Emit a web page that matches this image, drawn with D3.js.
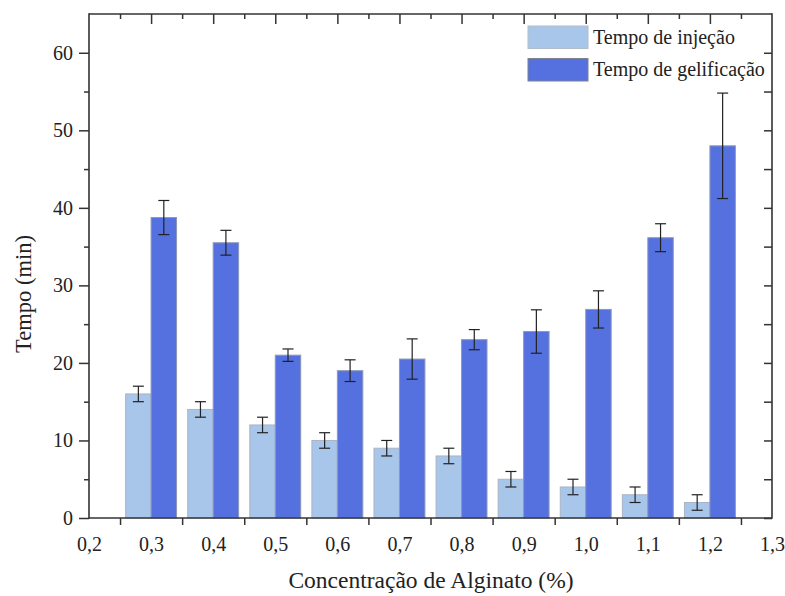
<!DOCTYPE html>
<html><head><meta charset="utf-8">
<script src="https://cdn.jsdelivr.net/npm/d3@7"></script>
<style>body{margin:0;background:#fff}svg{display:block}text{font-family:"Liberation Serif","Times New Roman",serif !important;fill:#222}</style>
</head><body><svg id="c" width="785" height="596"></svg>
<script>
const concentrations = [0.3,0.4,0.5,0.6,0.7,0.8,0.9,1.0,1.1,1.2];
const injecao = [16,14,12,10,9,8,5,4,3,2];
const injecaoErr = [1,1,1,1,1,1,1,1,1,1];
const gelificacao = [38.75,35.5,21.0,19.0,20.5,23.0,24.05,26.9,36.15,48.0];
const gelificacaoErr = [2.2,1.6,0.8,1.4,2.6,1.3,2.8,2.4,1.8,6.8];
const xTicks = [0.2,0.3,0.4,0.5,0.6,0.7,0.8,0.9,1.0,1.1,1.2,1.3];
const yTicks = [0,10,20,30,40,50,60];
const seriesNames = ["Tempo de injeção","Tempo de gelificação"];

const svg = d3.select("#c");
const L=89, R=772, T=14, B=518;
const x = d3.scaleLinear().domain([0.2,1.3]).range([L,R]);
const y = d3.scaleLinear().domain([0,65]).range([B,T]);
const bw = 0.041;
const colLight="#a8c6ea", colDark="#5571e0";
const FONT = "'Liberation Serif','Times New Roman',serif";

// bars
const g = svg.append("g");
g.selectAll("rect.l").data(concentrations).join("rect")
 .attr("x",d=>x(d-bw)).attr("width",d=>x(d)-x(d-bw))
 .attr("y",(d,i)=>y(injecao[i])).attr("height",(d,i)=>y(0)-y(injecao[i]))
 .attr("fill",colLight).attr("stroke","#a9b4c4").attr("stroke-width",1);
g.selectAll("rect.d").data(concentrations).join("rect")
 .attr("x",d=>x(d)).attr("width",d=>x(d+bw)-x(d))
 .attr("y",(d,i)=>y(gelificacao[i])).attr("height",(d,i)=>y(0)-y(gelificacao[i]))
 .attr("fill",colDark).attr("stroke","#8e98b8").attr("stroke-width",1);

function errBars(vals, errs, off){
  concentrations.forEach((c,i)=>{
    const cx = x(c+off);
    const y1=y(vals[i]+errs[i]), y2=y(vals[i]-errs[i]);
    g.append("line").attr("x1",cx).attr("x2",cx).attr("y1",y1).attr("y2",y2).attr("stroke","#222").attr("stroke-width",1.2);
    [y1,y2].forEach(yy=>g.append("line").attr("x1",cx-5.5).attr("x2",cx+5.5).attr("y1",yy).attr("y2",yy).attr("stroke","#222").attr("stroke-width",1.2));
  });
}
errBars(injecao, injecaoErr, -bw/2);
errBars(gelificacao, gelificacaoErr, bw/2);

// frame
const ax = svg.append("g").attr("stroke","#333").attr("stroke-width",1.6);
ax.append("line").attr("x1",L).attr("x2",R).attr("y1",B).attr("y2",B);
ax.append("line").attr("x1",L).attr("x2",R).attr("y1",T).attr("y2",T);
ax.append("line").attr("x1",L).attr("x2",L).attr("y1",T-0.8).attr("y2",B+0.8);
ax.append("line").attr("x1",R).attr("x2",R).attr("y1",T-0.8).attr("y2",B+0.8);

// left axis
const yAxis = d3.axisLeft(y).tickValues(yTicks).tickSize(10).tickPadding(6).tickFormat(d3.format("d"));
const ya = svg.append("g").attr("transform",`translate(${L},0)`).call(yAxis).attr("font-family",FONT);
ya.select(".domain").remove();
ya.selectAll("line").attr("stroke","#333").attr("stroke-width",1.5);
ya.selectAll("text").style("font-size","20px").attr("fill","#222");
const yMinor = d3.range(5,65,10);
svg.append("g").attr("transform",`translate(${L},0)`).call(d3.axisLeft(y).tickValues(yMinor).tickSize(5).tickFormat(""))
 .call(s=>s.select(".domain").remove()).selectAll("line").attr("stroke","#333").attr("stroke-width",1.5);
// right axis inward ticks
svg.append("g").attr("transform",`translate(${R},0)`).call(d3.axisLeft(y).tickValues(d3.range(0,65,5)).tickSize(8).tickFormat(""))
 .call(s=>s.select(".domain").remove()).selectAll("line").attr("stroke","#333").attr("stroke-width",1.5);

// bottom axis labels + midpoint ticks
const xb = svg.append("g").attr("transform",`translate(0,${B})`)
 .call(d3.axisBottom(x).tickValues(xTicks).tickSize(0).tickPadding(19).tickFormat(d=>d3.format(".1f")(d).replace(".",",")))
 .attr("font-family",FONT);
xb.select(".domain").remove();
xb.selectAll("text").style("font-size","20px").attr("fill","#222");
const mids = xTicks.slice(0,-1).map((d,i)=>(d+xTicks[i+1])/2);
svg.append("g").attr("transform",`translate(0,${B})`).call(d3.axisBottom(x).tickValues(mids).tickSize(7).tickFormat(""))
 .call(s=>s.select(".domain").remove()).selectAll("line").attr("stroke","#333").attr("stroke-width",1.5);
// top axis inward ticks
svg.append("g").attr("transform",`translate(0,${T})`).call(d3.axisTop(x).tickValues(concentrations).tickSize(-10).tickFormat(""))
 .call(s=>s.select(".domain").remove()).selectAll("line").attr("stroke","#333").attr("stroke-width",1.5);
svg.append("g").attr("transform",`translate(0,${T})`).call(d3.axisTop(x).tickValues(mids).tickSize(-5).tickFormat(""))
 .call(s=>s.select(".domain").remove()).selectAll("line").attr("stroke","#333").attr("stroke-width",1.5);

// titles
svg.append("text").attr("x",431).attr("y",588).attr("text-anchor","middle").attr("font-family",FONT).style("font-size","23.5px").text("Concentração de Alginato (%)");
svg.append("text").attr("transform","translate(31,294) rotate(-90)").attr("text-anchor","middle").attr("font-family",FONT).style("font-size","22.5px").text("Tempo (min)");

// legend
const leg = svg.append("g");
[colLight,colDark].forEach((c,i)=>{
  leg.append("rect").attr("x",528).attr("y",26+i*32.5).attr("width",60).attr("height",22.5).attr("fill",c).attr("stroke",i?"#7d8390":"#b3bdc9").attr("stroke-width",1);
  leg.append("text").attr("x",593).attr("y",43.5+i*32.5).attr("font-family",FONT).style("font-size","20px").text(seriesNames[i]);
});
</script></body></html>
